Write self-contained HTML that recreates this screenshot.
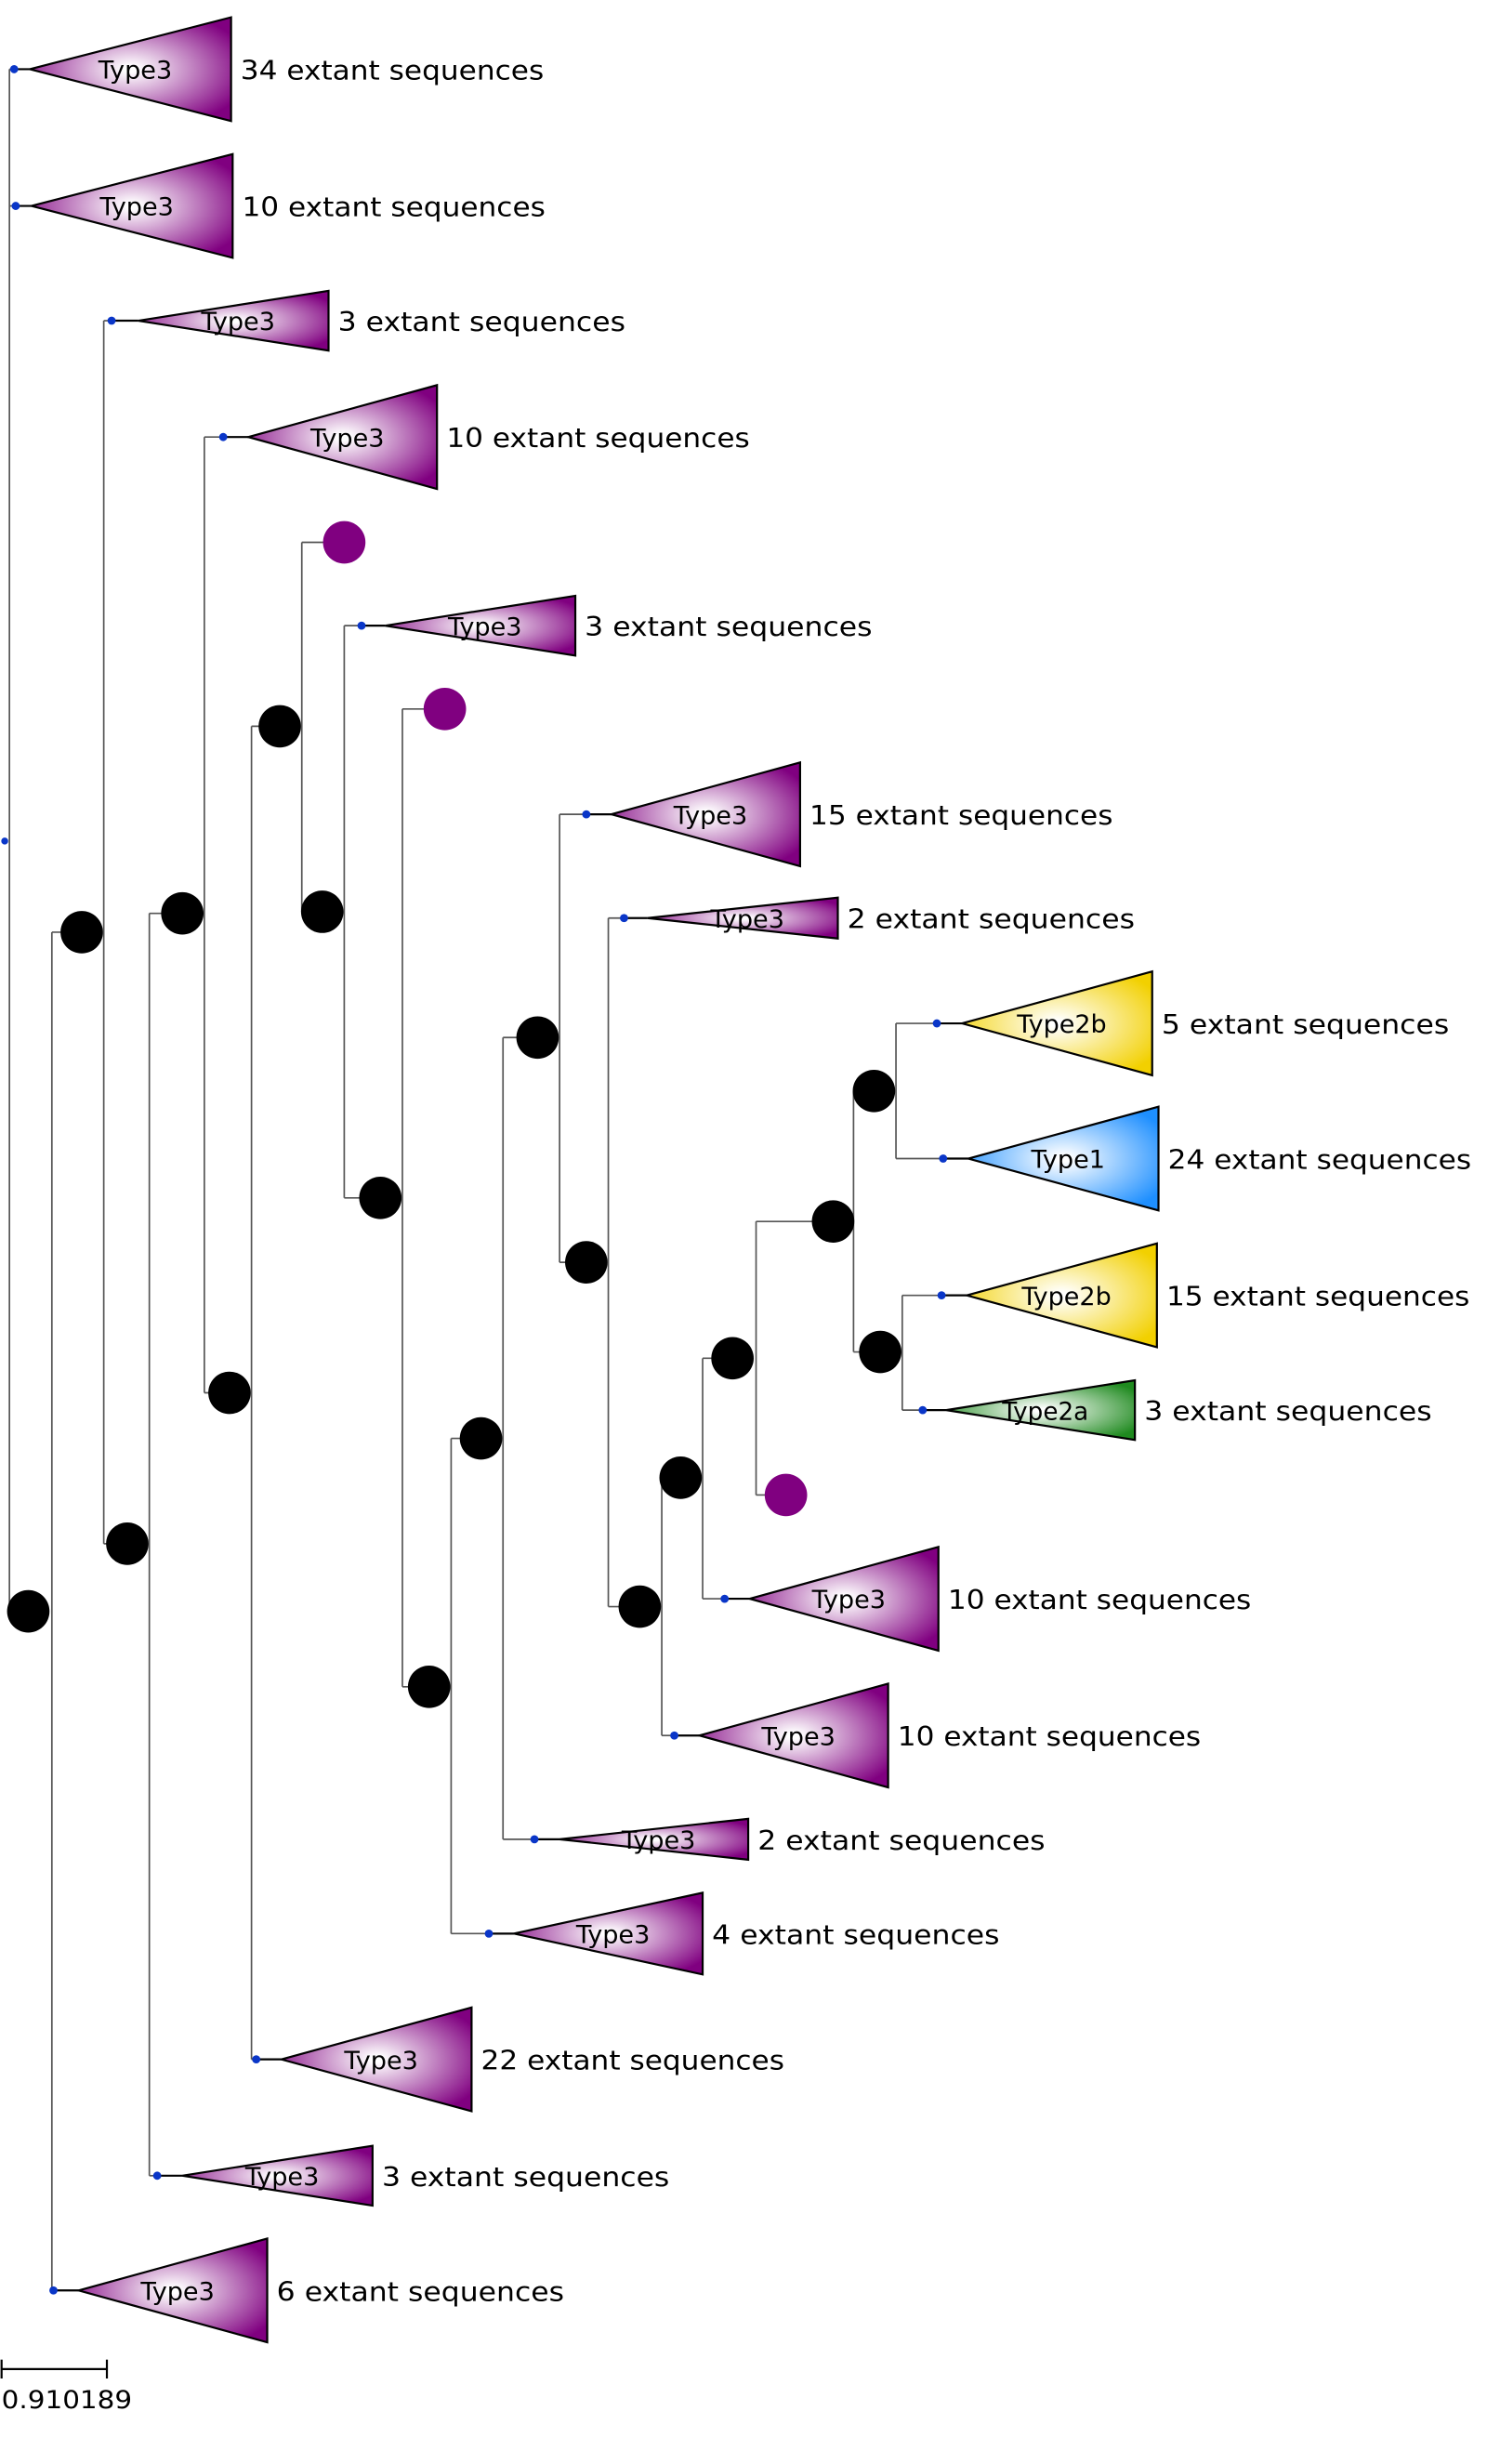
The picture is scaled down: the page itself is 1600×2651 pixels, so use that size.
<!DOCTYPE html>
<html><head><meta charset="utf-8"><style>
html,body{margin:0;padding:0;background:#fff;}
svg{display:block;}
text{font-family:"DejaVu Sans","Liberation Sans",sans-serif;fill:#000;}
</style></head><body>
<svg width="1600" height="2651" viewBox="0 0 946 1567.4" xmlns="http://www.w3.org/2000/svg">
<defs>
<radialGradient id="gP" cx="0.5" cy="0.5" r="0.6"><stop offset="0.05" stop-color="#fff"/><stop offset="1" stop-color="#800080"/></radialGradient>
<radialGradient id="gY" cx="0.5" cy="0.5" r="0.6"><stop offset="0.05" stop-color="#fff"/><stop offset="1" stop-color="#f2d000"/></radialGradient>
<radialGradient id="gB" cx="0.5" cy="0.5" r="0.6"><stop offset="0.05" stop-color="#fff"/><stop offset="1" stop-color="#1e8fff"/></radialGradient>
<radialGradient id="gG" cx="0.5" cy="0.5" r="0.6"><stop offset="0.05" stop-color="#fff"/><stop offset="1" stop-color="#1f8a1f"/></radialGradient>
</defs>
<g id="tree" stroke="#555" stroke-width="1" fill="none"></g>
<g id="fg"></g>
</svg>
<script>
var NS="http://www.w3.org/2000/svg";
var tree=document.getElementById('tree'),fg=document.getElementById('fg');
function el(p,t,a,txt){var e=document.createElementNS(NS,t);for(var k in a)e.setAttribute(k,a[k]);if(txt)e.textContent=txt;p.appendChild(e);return e;}
function L(x1,y1,x2,y2){el(tree,'line',{x1:x1,y1:y1,x2:x2,y2:y2});}
var nodes=[[6,535,6,44,1025],[18,1025,33,593,1457],[52,593,66,204,982],[81,982,95,581,1384],[116,581,130,278,886],[146,886,160,462,1310],[178,462,192,345,580],[205,580,219,398,762],[242,762,256,451,1073],[273,1073,287,915,1230],[306,915,320,660,1170],[342,660,356,518,803],[373,803,387,584,1022],[407,1022,421,940,1104],[433,940,447,864,1017],[466,864,481,777,951],[530,777,543,694,860],[556,694,570,651,737],[560,860,574,824,897]];
nodes.forEach(function(n){L(n[2],n[3],n[2],n[4]);});
var hs=[[6,44,9],[6,131,10],[6,1025,18],[33,593,52],[33,1457,34],[66,204,71],[66,982,81],[95,581,116],[95,1384,100],[130,278,142],[130,886,146],[160,462,178],[160,1310,163],[192,345,219],[192,580,205],[219,398,230],[219,762,242],[256,451,283],[256,1073,273],[287,915,306],[287,1230,311],[320,660,342],[320,1170,340],[356,518,373],[356,803,373],[387,584,397],[387,1022,407],[421,940,433],[421,1104,429],[447,864,466],[447,1017,461],[481,777,530],[481,951,500],[543,694,556],[543,860,560],[570,651,596],[570,737,600],[574,824,599],[574,897,587]];
hs.forEach(function(h){L(h[0],h[1],h[2],h[1]);});
var leaves=[[9,44,19,147,33,'Type3','gP','34'],[10,131,20,148,33,'Type3','gP','10'],[71,204,88,209,19,'Type3','gP','3'],[142,278,158,278,33,'Type3','gP','10'],[230,398,245,366,19,'Type3','gP','3'],[373,518,389,509,33,'Type3','gP','15'],[397,584,412,533,13,'Type3','gP','2'],[596,651,612,733,33,'Type2b','gY','5'],[600,737,616,737,33,'Type1','gB','24'],[599,824,615,736,33,'Type2b','gY','15'],[587,897,602,722,19,'Type2a','gG','3'],[461,1017,477,597,33,'Type3','gP','10'],[429,1104,445,565,33,'Type3','gP','10'],[340,1170,356,476,13,'Type3','gP','2'],[311,1230,327,447,26,'Type3','gP','4'],[163,1310,179,300,33,'Type3','gP','22'],[100,1384,116,237,19,'Type3','gP','3'],[34,1457,50,170,33,'Type3','gP','6']];
leaves.forEach(function(l){
 var d=l[0],y=l[1],a=l[2],b=l[3],h=l[4];
 el(fg,'line',{x1:d,y1:y,x2:a,y2:y,stroke:'#000','stroke-width':1.3});
 el(fg,'polygon',{points:a+','+y+' '+b+','+(y-h)+' '+b+','+(y+h),fill:'url(#'+l[6]+')',stroke:'#000','stroke-width':1.3});
 var cx=(a+b)/2+3, t=l[5], tw=(t=='Type3'||t=='Type1')?47:(t=='Type2b'?57:55);
 el(fg,'text',{x:cx,y:y+6,'text-anchor':'middle','font-size':16,textLength:tw,lengthAdjust:'spacingAndGlyphs'},t);
 var s=l[7]+' extant sequences';
 el(fg,'text',{x:b+6,y:y+6.5,'font-size':17,textLength:(s.length*10.16).toFixed(1),lengthAdjust:'spacingAndGlyphs'},s);
 el(fg,'circle',{cx:d,cy:y,r:2.6,fill:'#0a36c8'});
});
nodes.slice(1).forEach(function(n){el(fg,'circle',{cx:n[0],cy:n[1],r:13.5,fill:'#000'});});
el(fg,'circle',{cx:3,cy:535,r:2.2,fill:'#0a36c8'});
[[219,345],[283,451],[500,951]].forEach(function(p){el(fg,'circle',{cx:p[0],cy:p[1],r:13.5,fill:'#800080'});});
el(fg,'line',{x1:1,y1:1507,x2:68,y2:1507,stroke:'#000','stroke-width':1.3});
el(fg,'line',{x1:1,y1:1501,x2:1,y2:1513,stroke:'#000','stroke-width':1.3});
el(fg,'line',{x1:68,y1:1501,x2:68,y2:1513,stroke:'#000','stroke-width':1.3});
el(fg,'text',{x:1,y:1532,'font-size':16,textLength:83,lengthAdjust:'spacingAndGlyphs'},'0.910189');
</script>
</body></html>
